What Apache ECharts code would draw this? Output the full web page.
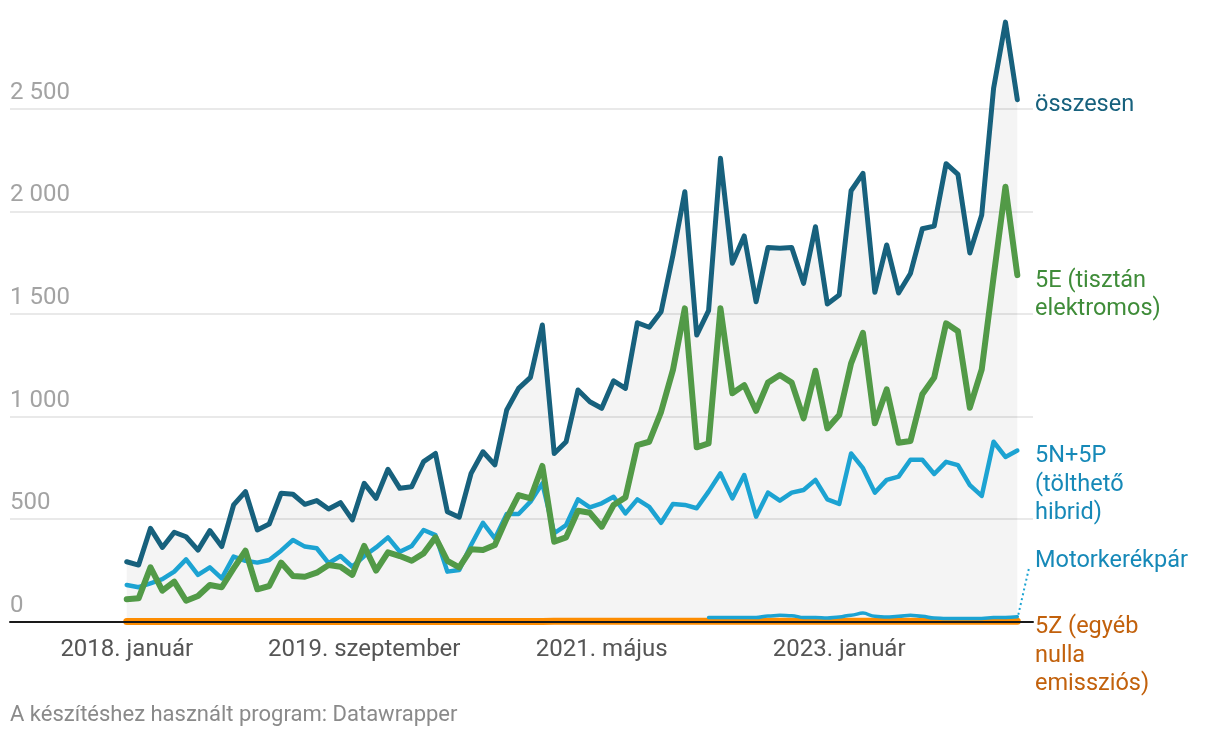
<!DOCTYPE html>
<html>
<head>
<meta charset="utf-8">
<script src="https://cdn.jsdelivr.net/npm/echarts@6/dist/echarts.min.js"></script>
<style>
html,body{margin:0;padding:0;background:#fff;}
#chart{width:1220px;height:738px;}
</style>
</head>
<body>
<div id="chart"></div>
<script>
// Months (Jan 2018 – Apr 2024)
const months = [
 '2018-01','2018-02','2018-03','2018-04','2018-05','2018-06','2018-07','2018-08','2018-09','2018-10','2018-11','2018-12',
 '2019-01','2019-02','2019-03','2019-04','2019-05','2019-06','2019-07','2019-08','2019-09','2019-10','2019-11','2019-12',
 '2020-01','2020-02','2020-03','2020-04','2020-05','2020-06','2020-07','2020-08','2020-09','2020-10','2020-11','2020-12',
 '2021-01','2021-02','2021-03','2021-04','2021-05','2021-06','2021-07','2021-08','2021-09','2021-10','2021-11','2021-12',
 '2022-01','2022-02','2022-03','2022-04','2022-05','2022-06','2022-07','2022-08','2022-09','2022-10','2022-11','2022-12',
 '2023-01','2023-02','2023-03','2023-04','2023-05','2023-06','2023-07','2023-08','2023-09','2023-10','2023-11','2023-12',
 '2024-01','2024-02','2024-03','2024-04'
];
const tickMonths = ['2018-01','2019-09','2021-05','2023-01'];
const tickLabels = ['2018. január','2019. szeptember','2021. május','2023. január'];

const osszesen = [
 292,276,455,362,436,414,349,444,366,569,
 634,447,476,626,621,572,590,549,580,496,
 674,601,743,650,658,780,820,536,509,723,
 828,764,1032,1137,1191,1446,820,877,1129,1072,
 1040,1174,1137,1457,1435,1511,1787,2095,1397,1516,
 2258,1747,1880,1559,1824,1820,1824,1649,1925,1548,
 1592,2100,2185,1605,1836,1602,1697,1915,1928,2232,
 2180,1797,1982,2599,2922,2544
];
const e5 = [
 109,114,265,151,195,102,125,179,168,260,
 346,158,174,288,223,219,239,276,268,228,
 369,249,338,320,297,333,411,297,265,353,
 349,374,504,617,601,759,390,411,541,531,
 463,569,606,861,877,1023,1227,1527,850,869,
 1527,1113,1153,1028,1165,1202,1165,991,1223,942,
 1007,1259,1408,967,1132,872,881,1108,1190,1454,
 1415,1043,1229,1679,2120,1689
];
const np5 = [
 179,168,187,207,244,304,228,265,211,317,
 297,288,301,346,398,366,358,285,320,268,
 320,362,411,341,369,447,422,244,252,374,
 482,406,525,525,585,674,431,471,596,557,
 577,609,528,596,560,482,574,569,553,634,
 723,601,715,512,629,590,629,642,691,596,
 574,820,748,629,691,707,789,789,720,779,
 763,666,613,877,803,834
];
// Motorkerékpár: reported from 2022-02
const motorStart = '2022-02';
const motor = [
 20,20,21,20,20,28,31,29,20,20,18,23,32,42,26,23,26,31,26,18,16,16,16,16,20,20,24
];
const z5 = [
 1,1,1,1,1,1,1,1,1,1,1,1,1,1,1,1,1,1,1,1,
 1,1,1,1,1,1,1,1,1,1,1,1,1,1,1,1,2,2,2,2,
 2,2,2,2,2,2,2,2,2,2,2,2,2,2,2,2,2,2,2,2,
 2,2,2,2,2,2,2,2,2,2,2,2,2,2,2,2
];

const toPairs = (arr, start) => arr.map((v, i) => [start + i, v]);
const mStart = months.indexOf(motorStart);

const C = {
  total: '#17617d', green: '#529a47', blue: '#1ca3d2', motor: '#1ca3d2', orange: '#fd8c00'
};
const FONT = 'Roboto, "Noto Sans", sans-serif';

const chart = echarts.init(document.getElementById('chart'), null, {renderer: 'canvas'});

const fmt = v => String(v).replace(/\B(?=(\d{3})+(?!\d))/g, ' ');

const option = {
  animation: false,
  backgroundColor: '#fff',
  grid: {left: 10, right: 187, top: 6.1, bottom: 116.3, containLabel: false},
  xAxis: {
    type: 'value', min: -9.83, max: 76.32, z: 10,
    splitLine: {show: false},
    axisTick: {show: false},
    axisLine: {show: true, onZero: true, lineStyle: {color: '#1a1a1a', width: 2}},
    axisLabel: {
      customValues: tickMonths.map(m => months.indexOf(m)),
      formatter: v => tickLabels[tickMonths.indexOf(months[Math.round(v)])] || '',
      color: '#555', fontSize: 24, fontFamily: FONT, margin: 16
    }
  },
  yAxis: {
    type: 'value', min: 0, max: 3000, interval: 500,
    axisLine: {show: false}, axisTick: {show: false},
    splitLine: {show: true, lineStyle: {color: ['#e2e2e2','#e2e2e2','#e2e2e2','#e2e2e2','#e2e2e2','#e2e2e2','rgba(0,0,0,0)'], width: 1.5}},
    axisLabel: {
      inside: true, margin: 0, verticalAlign: 'bottom', padding: [0,0,4,0],
      formatter: v => v >= 3000 ? '' : fmt(v),
      color: '#a3a3a3', fontSize: 24, fontFamily: FONT
    }
  },
  series: [
    {
      name: 'összesen-area', type: 'line', data: toPairs(osszesen, 0), symbol: 'none',
      lineStyle: {width: 0}, areaStyle: {color: 'rgba(0,0,0,0.062)', origin: 'start'}, z: 1, silent: true
    },
    {
      name: '5Z', type: 'line', data: toPairs(z5, 0), symbol: 'none',
      lineStyle: {color: C.orange, width: 7, cap: 'round', join: 'round'}, z: 2
    },
    {
      name: 'Motorkerékpár', type: 'line', data: toPairs(motor, mStart), symbol: 'none', smooth: 0.4, smoothMonotone: 'x',
      lineStyle: {color: C.motor, width: 3.5, cap: 'round', join: 'round'}, z: 3
    },
    {
      name: '5N+5P', type: 'line', data: toPairs(np5, 0), symbol: 'none',
      lineStyle: {color: C.blue, width: 4.5, cap: 'round', join: 'round'}, z: 4
    },
    {
      name: '5E', type: 'line', data: toPairs(e5, 0), symbol: 'none',
      lineStyle: {color: C.green, width: 6, cap: 'round', join: 'round'}, z: 5
    },
    {
      name: 'összesen', type: 'line', data: toPairs(osszesen, 0), symbol: 'none',
      lineStyle: {color: C.total, width: 5, cap: 'round', join: 'round'}, z: 6
    }
  ]
};
chart.setOption(option);

// direct labels on the right
const labelX = 1035;
const lastIdx = months.length - 1;
const motorEnd = chart.convertToPixel({gridIndex: 0}, [lastIdx, motor[motor.length - 1]]);
const mkText = (text, y, fill) => ({
  type: 'text', x: labelX, y: y, z: 20,
  style: {text: text, fill: fill, font: '23.5px ' + FONT, lineHeight: 28.5, verticalAlign: 'middle', align: 'left'}
});
chart.setOption({
  graphic: [
    mkText('összesen', 105, '#17617d'),
    mkText('5E (tisztán\nelektromos)', 295, '#3f8c39'),
    mkText('5N+5P\n(tölthető\nhibrid)', 485, '#1689b8'),
    mkText('Motorkerékpár', 561, '#1689b8'),
    mkText('5Z (egyéb\nnulla\nemissziós)', 656, '#c2610c'),
    {
      type: 'line', z: 20,
      shape: {x1: motorEnd[0] + 1, y1: motorEnd[1] - 2, x2: 1029, y2: 568},
      style: {stroke: '#1ca3d2', lineWidth: 2, lineDash: [2, 3]}
    },
    {
      type: 'text', x: 10, y: 715, z: 20,
      style: {text: 'A készítéshez használt program: Datawrapper', fill: '#8a8a8a', font: '22px ' + FONT, verticalAlign: 'middle', align: 'left'}
    }
  ]
});
</script>
</body>
</html>
